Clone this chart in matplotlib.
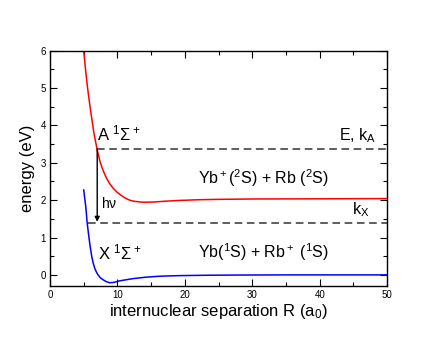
#!/usr/bin/env python3
"""
Potential energy curves for the Yb-Rb+ system (A and X states)
"""

import matplotlib
matplotlib.use('Agg')
import matplotlib.pyplot as plt
from matplotlib.ticker import MultipleLocator

plt.rcParams['font.family'] = ['Liberation Sans', 'DejaVu Sans']
plt.rcParams['mathtext.fontset'] = 'custom'
plt.rcParams['mathtext.rm'] = 'Liberation Sans'
plt.rcParams['mathtext.it'] = 'Liberation Sans'

# A 1Sigma+ curve
r_a = [5.0, 5.15, 5.3, 5.47, 5.64, 5.84, 6.04, 6.26, 6.48, 6.73, 6.98, 7.22, 7.48, 7.9, 8.37,
       8.85, 9.35, 9.95, 10.6, 11.2, 11.8, 12.45, 13.1, 13.8, 14.5, 15.5, 17.0, 19.0,
       22.0, 25.0, 30.0, 40.0, 50.0]
e_a = [6.0, 5.71, 5.44, 5.16, 4.90, 4.63, 4.37, 4.10, 3.83, 3.59, 3.36, 3.17, 2.99, 2.78, 2.59,
       2.44, 2.32, 2.21, 2.12, 2.05, 2.0, 1.97, 1.955, 1.945, 1.945, 1.95, 1.97, 1.99,
       2.01, 2.02, 2.03, 2.035, 2.04]

# X 1Sigma+ curve
r_x = [5.0, 5.15, 5.3, 5.4, 5.49, 5.64, 5.79, 5.98, 6.19, 6.4, 6.63, 6.87, 7.12, 7.48, 7.87,
       8.35, 8.86, 9.5, 10.3, 11.3, 12.3, 13.3, 14.3, 16.3, 19.0, 23.0, 28.0, 35.0, 50.0]
e_x = [2.27, 2.05, 1.83, 1.63, 1.43, 1.20, 0.98, 0.73, 0.49, 0.32, 0.18, 0.08, 0.0, -0.08, -0.13,
       -0.18, -0.21, -0.2, -0.16, -0.13, -0.10, -0.08, -0.06, -0.035, -0.02, -0.01, -0.004, 0.0, 0.0]

# collision energy levels
e_level_a = 3.37
e_level_x = 1.40
r_level_a = 7.0
r_level_x = 5.6

fig = plt.figure(figsize=(4.36, 3.37), dpi=100)
ax = fig.add_axes([0.1147, 0.151, 0.7733, 0.699])

ax.plot(r_a, e_a, color='red', linewidth=1.1)
ax.plot(r_x, e_x, color='blue', linewidth=1.1)

ax.plot([r_level_a, 50], [e_level_a, e_level_a], color='black', linestyle=(0, (5, 3)), linewidth=1.1, alpha=0.8)
ax.plot([r_level_x, 50], [e_level_x, e_level_x], color='black', linestyle=(0, (5, 3)), linewidth=1.1, alpha=0.8)

ax.annotate('', xy=(r_level_a, e_level_x + 0.02), xytext=(r_level_a, e_level_a),
            arrowprops=dict(arrowstyle='-|>', color='black', lw=1.0,
                            mutation_scale=7, shrinkA=0, shrinkB=0))

ax.text(7.6, 1.92, r'h$\nu$', fontsize=10, va='center', ha='left')
ax.text(7.0, 3.78, r'A $^1\Sigma^+$', fontsize=12, va='center', ha='left')
ax.text(7.1, 0.6, r'X $^1\Sigma^+$', fontsize=12, va='center', ha='left')
ax.text(48.3, 3.72, r'E, k$_\mathregular{A}$', fontsize=11.5, va='center', ha='right')
ax.text(47.3, 1.74, r'k$_\mathregular{X}$', fontsize=11.5, va='center', ha='right')
ax.text(22.0, 2.58, r'Yb$^+$($^2$S) + Rb ($^2$S)', fontsize=11.5, va='center', ha='left')
ax.text(22.0, 0.62, r'Yb($^1$S) + Rb$^+$ ($^1$S)', fontsize=11.5, va='center', ha='left')

ax.set_xlim(0, 50)
ax.set_ylim(-0.3, 6)
ax.xaxis.set_major_locator(MultipleLocator(10))
ax.xaxis.set_minor_locator(MultipleLocator(5))
ax.yaxis.set_major_locator(MultipleLocator(1))
ax.yaxis.set_minor_locator(MultipleLocator(0.5))
ax.tick_params(which='both', direction='in', top=True, right=True, labelsize=7, pad=3)
ax.tick_params(which='major', length=5, width=0.8)
ax.tick_params(which='minor', length=3, width=0.8)
for s in ax.spines.values():
    s.set_linewidth(1.0)

ax.set_xlabel(r'internuclear separation R (a$_\mathregular{0}$)', fontsize=12, labelpad=1)
ax.set_ylabel('energy (eV)', fontsize=12, labelpad=4)

plt.savefig('out.png', dpi=100)
